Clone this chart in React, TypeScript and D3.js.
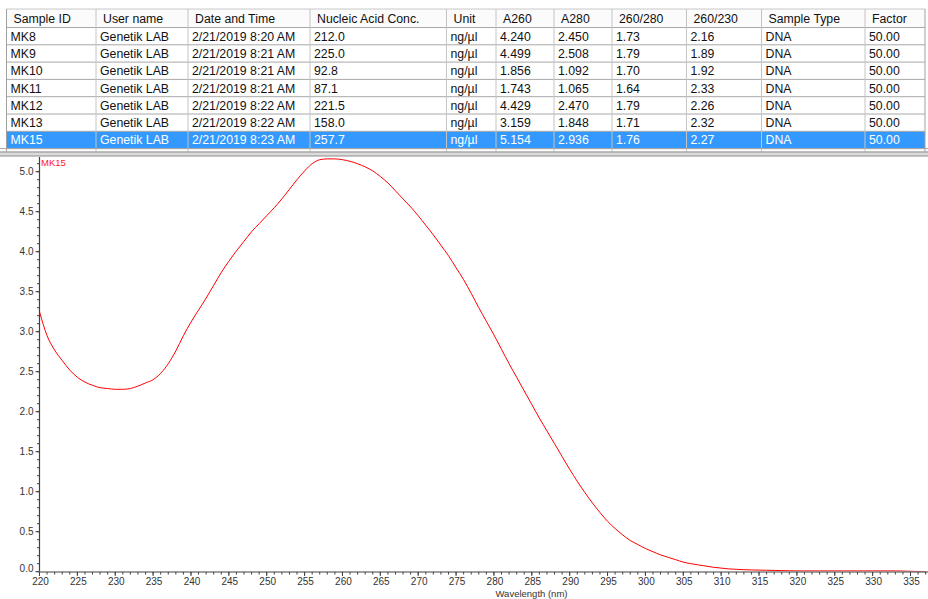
import React from "react";
import * as d3 from "d3";

const headers = ["Sample ID", "User name", "Date and Time", "Nucleic Acid Conc.", "Unit", "A260", "A280", "260/280", "260/230", "Sample Type", "Factor"];
const sampleIds = ["MK8", "MK9", "MK10", "MK11", "MK12", "MK13", "MK15"];
const userNames = ["Genetik LAB", "Genetik LAB", "Genetik LAB", "Genetik LAB", "Genetik LAB", "Genetik LAB", "Genetik LAB"];
const dateTimes = ["2/21/2019 8:20 AM", "2/21/2019 8:21 AM", "2/21/2019 8:21 AM", "2/21/2019 8:21 AM", "2/21/2019 8:22 AM", "2/21/2019 8:22 AM", "2/21/2019 8:23 AM"];
const concs = ["212.0", "225.0", "92.8", "87.1", "221.5", "158.0", "257.7"];
const units = ["ng/µl", "ng/µl", "ng/µl", "ng/µl", "ng/µl", "ng/µl", "ng/µl"];
const a260 = ["4.240", "4.499", "1.856", "1.743", "4.429", "3.159", "5.154"];
const a280 = ["2.450", "2.508", "1.092", "1.065", "2.470", "1.848", "2.936"];
const r260280 = ["1.73", "1.79", "1.70", "1.64", "1.79", "1.71", "1.76"];
const r260230 = ["2.16", "1.89", "1.92", "2.33", "2.26", "2.32", "2.27"];
const sampleTypes = ["DNA", "DNA", "DNA", "DNA", "DNA", "DNA", "DNA"];
const factors = ["50.00", "50.00", "50.00", "50.00", "50.00", "50.00", "50.00"];
const selectedSample = "MK15";

const wavelengths = [
  220, 221, 222, 223, 224, 225, 226, 227, 228, 229, 230, 231, 232, 233, 234, 235, 236, 237, 238, 239,
  240, 241, 242, 243, 244, 245, 246, 247, 248, 249, 250, 251, 252, 253, 254, 255, 256, 257, 258, 259,
  260, 261, 262, 263, 264, 265, 266, 267, 268, 269, 270, 271, 272, 273, 274, 275, 276, 277, 278, 279,
  280, 281, 282, 283, 284, 285, 286, 287, 288, 289, 290, 291, 292, 293, 294, 295, 296, 297, 298, 299,
  300, 301, 302, 303, 304, 305, 306, 307, 308, 309, 310, 311, 312, 313, 314, 315, 316, 317, 318, 319,
  320, 321, 322, 323, 324, 325, 326, 327, 328, 329, 330, 331, 332, 333, 334, 335, 336, 337,
];
const absorbance = [
  3.25, 2.95, 2.77, 2.64, 2.52, 2.43, 2.37, 2.33, 2.30, 2.29, 2.28, 2.28, 2.29, 2.32, 2.36, 2.40, 2.48, 2.60, 2.76, 2.95,
  3.12, 3.27, 3.42, 3.58, 3.74, 3.88, 4.01, 4.13, 4.25, 4.35, 4.45, 4.55, 4.66, 4.78, 4.90, 5.01, 5.10, 5.15, 5.16, 5.16,
  5.15, 5.13, 5.10, 5.06, 5.01, 4.94, 4.86, 4.76, 4.66, 4.56, 4.45, 4.33, 4.21, 4.08, 3.95, 3.80, 3.65, 3.48, 3.30, 3.13,
  2.96, 2.78, 2.60, 2.43, 2.26, 2.09, 1.92, 1.76, 1.60, 1.44, 1.28, 1.13, 0.99, 0.86, 0.74, 0.63, 0.54, 0.46, 0.39, 0.34,
  0.29, 0.25, 0.21, 0.18, 0.15, 0.12, 0.10, 0.085, 0.07, 0.055, 0.045, 0.035, 0.03, 0.025, 0.022, 0.02, 0.018, 0.016, 0.014, 0.012,
  0.01, 0.01, 0.01, 0.01, 0.01, 0.01, 0.01, 0.01, 0.01, 0.01, 0.01, 0.01, 0.01, 0.01, 0.008, 0.005, 0.003, 0.002,
];
const xMajorTicks = [220, 225, 230, 235, 240, 245, 250, 255, 260, 265, 270, 275, 280, 285, 290, 295, 300, 305, 310, 315, 320, 325, 330, 335];
const yMajorTicks = [0, 0.5, 1.0, 1.5, 2.0, 2.5, 3.0, 3.5, 4.0, 4.5, 5.0];
const xAxisTitle = "Wavelength (nm)";

const W = 928;
const H = 599;
const colX = [6.5, 96, 188, 310, 446.5, 496, 554, 612, 686.5, 761.5, 865, 925];
const tableTop = 9;
const headerBottom = 27.5;
const rowH = 17.3;
const FONT = "Arial, 'Liberation Sans', sans-serif";

export default function App() {
  const columns = [sampleIds, userNames, dateTimes, concs, units, a260, a280, r260280, r260230, sampleTypes, factors];
  const x = d3.scaleLinear().domain([220, 335]).range([39.5, 910.5]);
  const y = d3.scaleLinear().domain([0, 5]).range([571.7, 171.7]);
  const plotTop = 157;
  const axisY = 572;
  const line = d3
    .line<number>()
    .x((_, i) => x(wavelengths[i]))
    .y((d) => y(d))
    .curve(d3.curveMonotoneX);
  const xMinor = d3.range(220, 338, 1);
  const yMinor = d3.range(0, 52, 1).map((v) => v / 10);
  const rowsEnd = headerBottom + rowH * sampleIds.length;

  return (
    <svg
      width={W}
      height={H}
      style={{ position: "absolute", left: 0, top: 0, display: "block", background: "#fff" }}
      fontFamily={FONT}
    >
      <rect x={0} y={0} width={W} height={H} fill="#fff" />
      {/* table header */}
      <rect x={colX[0]} y={tableTop} width={colX[colX.length - 1] - colX[0]} height={headerBottom - tableTop} fill="#fbfbfb" />
      {headers.map((h, i) => (
        <text key={h} x={colX[i] + 7} y={(tableTop + headerBottom) / 2 + 4.5} fontSize={12.3} fill="#111">
          {h}
        </text>
      ))}
      {/* rows */}
      {sampleIds.map((id, r) => {
        const top = headerBottom + r * rowH;
        const sel = id === selectedSample;
        return (
          <g key={id}>
            {sel && <rect x={colX[0]} y={top} width={colX[colX.length - 1] - colX[0]} height={rowH} fill="#3399ff" />}
            {columns.map((col, c) => (
              <text key={c} x={colX[c] + 4} y={top + rowH / 2 + 4.5} fontSize={12.3} fill={sel ? "#fff" : "#111"}>
                {col[r]}
              </text>
            ))}
          </g>
        );
      })}
      {/* grid lines */}
      {d3.range(0, sampleIds.length + 1).map((i) => (
        <line key={"h" + i} x1={colX[0]} x2={colX[colX.length - 1]} y1={headerBottom + i * rowH} y2={headerBottom + i * rowH} stroke="#a8a8a8" strokeWidth={1} />
      ))}
      <line x1={colX[0]} x2={colX[colX.length - 1]} y1={tableTop} y2={tableTop} stroke="#c8c8c8" />
      {colX.map((cx, i) => (
        <line key={"v" + i} x1={cx} x2={cx} y1={tableTop} y2={152} stroke={i === 0 || i === colX.length - 1 ? "#a0a0a0" : "#c4c4c4"} strokeWidth={1} />
      ))}
      <rect x={0} y={151.5} width={W} height={4.5} fill="#dcdcdc" stroke="none" />
      <line x1={0} x2={W} y1={152} y2={152} stroke="#8c8c8c" />
      <line x1={0} x2={W} y1={156} y2={156} stroke="#8c8c8c" />
      <line x1={0} x2={W} y1={rowsEnd} y2={rowsEnd} stroke="#a8a8a8" />

      {/* chart */}
      <path d={line(absorbance) || ""} fill="none" stroke="#ff0000" strokeWidth={1} />
      <text x={41} y={166} fontSize={9.5} fill="#ff2020">{selectedSample}</text>

      {/* y axis */}
      <line x1={39.5} x2={39.5} y1={plotTop} y2={axisY + 1} stroke="#404040" strokeWidth={1.2} />
      {yMinor.map((v) => (
        <line key={"ym" + v} x1={37} x2={39.5} y1={y(v)} y2={y(v)} stroke="#404040" />
      ))}
      {yMajorTicks.map((v) => (
        <g key={"yt" + v}>
          <line x1={35.5} x2={39.5} y1={y(v)} y2={y(v)} stroke="#404040" />
          <text x={33.5} y={v === 0 ? y(v) : y(v) + 3.5} fontSize={10} fill="#333" textAnchor="end">
            {d3.format(".1f")(v)}
          </text>
        </g>
      ))}
      {/* x axis */}
      <line x1={39} x2={W} y1={axisY} y2={axisY} stroke="#808080" strokeWidth={1.6} />
      {xMinor.map((v) => (
        <line key={"xm" + v} x1={x(v)} x2={x(v)} y1={axisY} y2={axisY + 2.5} stroke="#404040" />
      ))}
      {xMajorTicks.map((v) => (
        <g key={"xt" + v}>
          <line x1={x(v)} x2={x(v)} y1={axisY} y2={axisY + 4} stroke="#404040" />
          <text x={x(v) + 1} y={axisY + 12.5} fontSize={10} fill="#333" textAnchor="middle">
            {v}
          </text>
        </g>
      ))}
      <text x={531.5} y={597} fontSize={9.5} fill="#333" textAnchor="middle">
        {xAxisTitle}
      </text>
    </svg>
  );
}
